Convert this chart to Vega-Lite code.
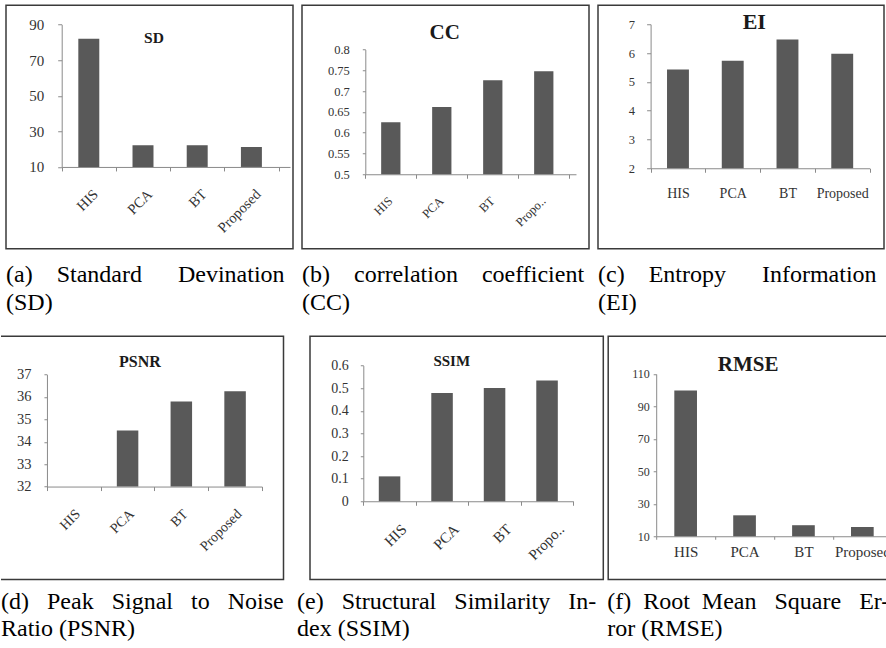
{
 "$schema": "https://vega.github.io/schema/vega-lite/v6.json",
 "background": "white",
 "padding": {"left": 0, "top": 4.25, "right": 0, "bottom": 0},
 "datasets": {
  "sd": [{"method": "HIS", "value": 82}, {"method": "PCA", "value": 22.2}, {"method": "BT", "value": 22.2}, {"method": "Proposed", "value": 21.2}],
  "cc": [{"method": "HIS", "value": 0.625}, {"method": "PCA", "value": 0.662}, {"method": "BT", "value": 0.726}, {"method": "Proposed", "value": 0.748}],
  "ei": [{"method": "HIS", "value": 5.43}, {"method": "PCA", "value": 5.73}, {"method": "BT", "value": 6.47}, {"method": "Proposed", "value": 5.98}],
  "psnr": [{"method": "HIS", "value": 32}, {"method": "PCA", "value": 34.5}, {"method": "BT", "value": 35.8}, {"method": "Proposed", "value": 36.25}],
  "ssim": [{"method": "HIS", "value": 0.11}, {"method": "PCA", "value": 0.479}, {"method": "BT", "value": 0.501}, {"method": "Proposed", "value": 0.534}],
  "rmse": [{"method": "HIS", "value": 99.8}, {"method": "PCA", "value": 22.9}, {"method": "BT", "value": 16.8}, {"method": "Proposed", "value": 15.7}]
 },
 "spacing": 19,
 "vconcat": [
  {
   "spacing": 2,
   "hconcat": [
    {"width": 1, "height": 1, "data": {"values": []}, "mark": {"type": "point", "opacity": 0, "size": 0}, "encoding": {}, "view": {"stroke": null, "fill": null}},
    {
     "spacing": 7,
     "hconcat": [
      {
       "width": 287, "height": 243.5,
       "title": {"text": ["(a)\u00a0\u00a0\u00a0\u00a0Standard\u00a0\u00a0\u00a0\u00a0\u00a0\u00a0Devination", "(SD)"], "offset": 14, "lineHeight": 28, "font": "Liberation Serif"},
       "layer": [
        {"data": {"name": "sd"},
         "mark": {"type": "bar", "color": "#595959", "width": {"band": 0.387}},
         "encoding": {
          "x": {"field": "method", "type": "nominal", "sort": null, "title": null,
           "scale": {"domain": ["HIS", "PCA", "BT", "Proposed"], "range": [55.7, 284], "paddingInner": 0, "paddingOuter": 0.106, "align": 0},
           "axis": {"orient": "bottom", "offset": -81.8, "tickBand": "extent", "tickSize": 4, "labelAngle": -45, "labelAlign": "right", "labelBaseline": "top", "labelPadding": 16, "labelOffset": 2, "labelFontSize": 14.5, "labelFont": "Liberation Serif"}},
          "y": {"field": "value", "type": "quantitative", "title": null,
           "scale": {"domain": [10, 90], "range": [161.7, 19.3], "nice": false, "zero": false},
           "axis": {"orient": "left", "offset": -55.7, "values": [10, 30, 50, 70, 90], "format": "d", "tickSize": 4, "labelPadding": 14, "labelFontSize": 15, "labelFont": "Liberation Serif"}},
          "y2": {"datum": 10}
         }},
        {"data": {"values": [{"label": "SD"}]},
         "mark": {"type": "text", "font": "Liberation Serif", "fontWeight": "bold", "fontSize": 15.5, "color": "#1a1a1a", "dx": 11, "baseline": "middle"},
         "encoding": {"x": {"datum": "PCA", "type": "nominal"}, "y": {"datum": 82.3, "type": "quantitative"}, "text": {"field": "label"}}}
       ]
      },
      {
       "width": 287, "height": 243.5,
       "title": {"text": ["(b)\u00a0\u00a0\u00a0\u00a0correlation\u00a0\u00a0\u00a0\u00a0coefficient", "(CC)"], "offset": 14, "lineHeight": 28, "font": "Liberation Serif"},
       "layer": [
        {"data": {"name": "cc"},
         "mark": {"type": "bar", "color": "#595959", "width": {"band": 0.378}},
         "encoding": {
          "x": {"field": "method", "type": "nominal", "sort": null, "title": null,
           "scale": {"domain": ["HIS", "PCA", "BT", "Proposed"], "range": [63.3, 274], "paddingInner": 0, "paddingOuter": 0.066, "align": 0},
           "axis": {"orient": "bottom", "offset": -74.5, "tickBand": "extent", "tickSize": 4, "labelAngle": -45, "labelAlign": "right", "labelBaseline": "top", "labelPadding": 16, "labelOffset": -5, "labelFontSize": 12.5, "labelFont": "Liberation Serif", "labelExpr": "datum.label == 'Proposed' ? 'Propo..' : datum.label"}},
          "y": {"field": "value", "type": "quantitative", "title": null,
           "scale": {"domain": [0.5, 0.8], "range": [169, 44.3], "nice": false, "zero": false},
           "axis": {"orient": "left", "offset": -63.3, "values": [0.5, 0.55, 0.6, 0.65, 0.7, 0.75, 0.8], "format": "~g", "tickSize": 3, "labelPadding": 13, "labelFontSize": 12.5, "labelFont": "Liberation Serif"}},
          "y2": {"datum": 0.5}
         }},
        {"data": {"values": [{"label": "CC"}]},
         "mark": {"type": "text", "font": "Liberation Serif", "fontWeight": "bold", "fontSize": 21, "color": "#1a1a1a", "dx": 3, "baseline": "middle"},
         "encoding": {"x": {"datum": "PCA", "type": "nominal"}, "y": {"datum": 0.841, "type": "quantitative"}, "text": {"field": "label"}}}
       ]
      },
      {
       "width": 286, "height": 243.5,
       "title": {"text": ["(c)\u00a0\u00a0\u00a0\u00a0Entropy\u00a0\u00a0\u00a0\u00a0\u00a0\u00a0Information", "(EI)"], "offset": 14, "lineHeight": 28, "font": "Liberation Serif"},
       "layer": [
        {"data": {"name": "ei"},
         "mark": {"type": "bar", "color": "#595959", "width": {"band": 0.40}},
         "encoding": {
          "x": {"field": "method", "type": "nominal", "sort": null, "title": null,
           "scale": {"domain": ["HIS", "PCA", "BT", "Proposed"], "range": [52.6, 271.6], "paddingInner": 0, "paddingOuter": 0, "align": 0},
           "axis": {"orient": "bottom", "offset": -80.5, "tickBand": "extent", "tickSize": 4, "labelAngle": 0, "labelAlign": "center", "labelBaseline": "top", "labelPadding": 14.6, "labelFontSize": 14, "labelFont": "Liberation Serif"}},
          "y": {"field": "value", "type": "quantitative", "title": null,
           "scale": {"domain": [2, 7], "range": [163, 19], "nice": false, "zero": false},
           "axis": {"orient": "left", "offset": -52.6, "values": [2, 3, 4, 5, 6, 7], "format": "d", "tickSize": 4, "labelPadding": 12, "labelFontSize": 12.5, "labelFont": "Liberation Serif"}},
          "y2": {"datum": 2}
         }},
        {"data": {"values": [{"label": "EI"}]},
         "mark": {"type": "text", "font": "Liberation Serif", "fontWeight": "bold", "fontSize": 22, "color": "#1a1a1a", "dx": 21.6, "baseline": "middle"},
         "encoding": {"x": {"datum": "PCA", "type": "nominal"}, "y": {"datum": 7.08, "type": "quantitative"}, "text": {"field": "label"}}}
       ]
      }
     ]
    }
   ]
  },
  {
   "spacing": 11,
   "hconcat": [
    {
     "width": 282.5, "height": 243.3,
     "view": {"strokeDash": [808.3, 400]},
     "title": {"text": ["(d)\u00a0\u00a0\u00a0Peak\u00a0\u00a0\u00a0Signal\u00a0\u00a0\u00a0to\u00a0\u00a0\u00a0Noise", "Ratio (PSNR)"], "offset": 10.7, "lineHeight": 27, "dx": 0, "font": "Liberation Serif"},
     "layer": [
      {"data": {"name": "psnr"},
       "mark": {"type": "bar", "color": "#595959", "width": {"band": 0.40}},
       "encoding": {
        "x": {"field": "method", "type": "nominal", "sort": null, "title": null,
         "scale": {"domain": ["HIS", "PCA", "BT", "Proposed"], "range": [45.95, 260.95], "paddingInner": 0, "paddingOuter": 0, "align": 0},
         "axis": {"orient": "bottom", "offset": -93, "tickBand": "extent", "tickSize": 4, "labelAngle": -45, "labelAlign": "right", "labelBaseline": "top", "labelPadding": 16, "labelOffset": -1, "labelFontSize": 14, "labelFont": "Liberation Serif"}},
        "y": {"field": "value", "type": "quantitative", "title": null,
         "scale": {"domain": [32, 37], "range": [150.3, 38.3], "nice": false, "zero": false},
         "axis": {"orient": "left", "offset": -45.95, "values": [32, 33, 34, 35, 36, 37], "format": "d", "tickSize": 3, "labelPadding": 13, "labelFontSize": 14.5, "labelFont": "Liberation Serif"}},
        "y2": {"datum": 32}
       }},
      {"data": {"values": [{"label": "PSNR"}]},
       "mark": {"type": "text", "font": "Liberation Serif", "fontWeight": "bold", "fontSize": 16, "color": "#1a1a1a", "dx": 12.4, "baseline": "middle"},
       "encoding": {"x": {"datum": "PCA", "type": "nominal"}, "y": {"datum": 37.56, "type": "quantitative"}, "text": {"field": "label"}}}
     ]
    },
    {
     "spacing": 1.2,
     "hconcat": [
      {
       "width": 293.3, "height": 243.3,
       "title": {"text": ["(e)\u00a0\u00a0\u00a0Structural\u00a0\u00a0\u00a0Similarity\u00a0\u00a0\u00a0In-", "dex (SSIM)"], "offset": 10.7, "lineHeight": 27, "dx": -13, "font": "Liberation Serif"},
       "layer": [
        {"data": {"name": "ssim"},
         "mark": {"type": "bar", "color": "#595959", "width": {"band": 0.41}},
         "encoding": {
          "x": {"field": "method", "type": "nominal", "sort": null, "title": null,
           "scale": {"domain": ["HIS", "PCA", "BT", "Proposed"], "range": [53.3, 263.3], "paddingInner": 0, "paddingOuter": 0, "align": 0},
           "axis": {"orient": "bottom", "offset": -78.3, "tickBand": "extent", "tickSize": 4, "labelAngle": -45, "labelAlign": "right", "labelBaseline": "top", "labelPadding": 16, "labelOffset": 9, "labelFontSize": 15, "labelFont": "Liberation Serif", "labelExpr": "datum.label == 'Proposed' ? 'Propo..' : datum.label"}},
          "y": {"field": "value", "type": "quantitative", "title": null,
           "scale": {"domain": [0, 0.6], "range": [165, 29.3], "nice": false, "zero": false},
           "axis": {"orient": "left", "offset": -53.3, "values": [0, 0.1, 0.2, 0.3, 0.4, 0.5, 0.6], "format": "~g", "tickSize": 3, "labelPadding": 12, "labelFontSize": 14, "labelFont": "Liberation Serif"}},
          "y2": {"datum": 0}
         }},
        {"data": {"values": [{"label": "SSIM"}]},
         "mark": {"type": "text", "font": "Liberation Serif", "fontWeight": "bold", "fontSize": 15, "color": "#1a1a1a", "dx": 9.7, "baseline": "middle"},
         "encoding": {"x": {"datum": "PCA", "type": "nominal"}, "y": {"datum": 0.622, "type": "quantitative"}, "text": {"field": "label"}}}
       ]
      },
      {
       "width": 287, "height": 243.3,
       "title": {"text": ["(f)\u00a0\u00a0Root\u00a0\u00a0Mean\u00a0\u00a0\u00a0Square\u00a0\u00a0\u00a0Er-", "ror (RMSE)"], "offset": 10.7, "lineHeight": 27, "dx": -1, "font": "Liberation Serif"},
       "layer": [
        {"data": {"name": "rmse"},
         "mark": {"type": "bar", "color": "#595959", "width": {"band": 0.385}},
         "encoding": {
          "x": {"field": "method", "type": "nominal", "sort": null, "title": null,
           "scale": {"domain": ["HIS", "PCA", "BT", "Proposed"], "range": [48, 283.6], "paddingInner": 0, "paddingOuter": 0, "align": 0},
           "axis": {"orient": "bottom", "offset": -43.3, "tickBand": "extent", "tickSize": 3, "labelAngle": 0, "labelAlign": "center", "labelBaseline": "top", "labelPadding": 5, "labelFontSize": 15, "labelFont": "Liberation Serif"}},
          "y": {"field": "value", "type": "quantitative", "title": null,
           "scale": {"domain": [10, 110], "range": [200, 37.7], "nice": false, "zero": false},
           "axis": {"orient": "left", "offset": -48, "values": [10, 30, 50, 70, 90, 110], "format": "d", "tickSize": 3, "labelPadding": 4, "labelFontSize": 12, "labelFont": "Liberation Serif"}},
          "y2": {"datum": 10}
         }},
        {"data": {"values": [{"label": "RMSE"}]},
         "mark": {"type": "text", "font": "Liberation Serif", "fontWeight": "bold", "fontSize": 21, "color": "#1a1a1a", "dx": 3.6, "baseline": "middle"},
         "encoding": {"x": {"datum": "PCA", "type": "nominal"}, "y": {"datum": 115.8, "type": "quantitative"}, "text": {"field": "label"}}}
       ]
      }
     ]
    }
   ]
  }
 ],
 "config": {
  "view": {"stroke": "#3a3a3a", "strokeWidth": 1.5},
  "axis": {"grid": false, "domainColor": "#8a8a8a", "tickColor": "#8a8a8a", "domainWidth": 1, "tickWidth": 1, "labelFont": "Liberation Serif", "labelColor": "#333333", "labelOverlap": false, "labelFlush": false, "labelLimit": 0},
  "title": {"font": "Liberation Serif", "fontSize": 24, "fontWeight": "normal", "color": "#000000", "orient": "bottom", "anchor": "start", "baseline": "alphabetic", "frame": "group"}
 }
}
